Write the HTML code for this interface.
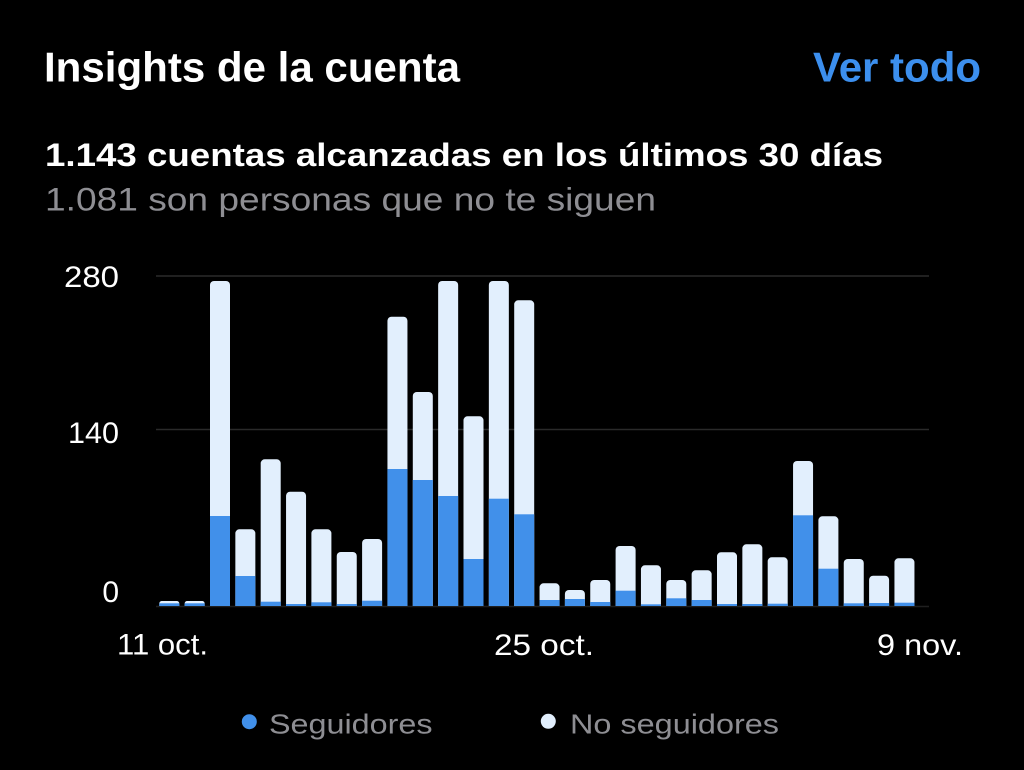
<!DOCTYPE html>
<html>
<head>
<meta charset="utf-8">
<style>
html,body{margin:0;padding:0;background:#000;}
body{width:1024px;height:770px;overflow:hidden;}
svg{display:block;}
text{font-family:"Liberation Sans",Arial,sans-serif;}
</style>
</head>
<body>
<svg width="1024" height="770" viewBox="0 0 1024 770" xmlns="http://www.w3.org/2000/svg">
<rect x="0" y="0" width="1024" height="770" fill="#000"/>
<defs>
<clipPath id="cp"><rect x="0" y="0" width="1024" height="606"/></clipPath>
</defs>

<!-- Header -->
<text x="44" y="81.7" font-size="42" font-weight="bold" fill="#ffffff" textLength="416" lengthAdjust="spacingAndGlyphs">Insights de la cuenta</text>
<text x="813" y="81.7" font-size="42" font-weight="bold" fill="#3c8fee" textLength="168" lengthAdjust="spacingAndGlyphs">Ver todo</text>
<text x="45" y="166" font-size="32" font-weight="bold" fill="#ffffff" textLength="838" lengthAdjust="spacingAndGlyphs">1.143 cuentas alcanzadas en los últimos 30 días</text>
<text x="45" y="210.5" font-size="32" fill="#8e8e93" textLength="611" lengthAdjust="spacingAndGlyphs">1.081 son personas que no te siguen</text>

<!-- Gridlines -->
<line x1="156" y1="276" x2="929" y2="276" stroke="#2a2a2a" stroke-width="1.5"/>
<line x1="156" y1="429.5" x2="929" y2="429.5" stroke="#2a2a2a" stroke-width="1.5"/>
<line x1="156" y1="606.5" x2="929" y2="606.5" stroke="#1f1f1f" stroke-width="1.5"/>

<!-- Y labels -->
<text x="119" y="287" font-size="30" fill="#ffffff" text-anchor="end" textLength="55" lengthAdjust="spacingAndGlyphs">280</text>
<text x="119" y="443" font-size="30" fill="#ffffff" text-anchor="end" textLength="51" lengthAdjust="spacingAndGlyphs">140</text>
<text x="119" y="602" font-size="30" fill="#ffffff" text-anchor="end">0</text>

<!-- Bars -->
<g clip-path="url(#cp)">
<g fill="#e2effd">
<rect x="159.3" y="601" width="20" height="11" rx="2.5"/>
<rect x="184.65" y="601" width="20" height="11" rx="2.5"/>
<rect x="210.0" y="281" width="20" height="331" rx="4"/>
<rect x="235.35" y="529.3" width="20" height="83" rx="4"/>
<rect x="260.7" y="459.3" width="20" height="153" rx="4"/>
<rect x="286.05" y="491.7" width="20" height="121" rx="4"/>
<rect x="311.4" y="529.3" width="20" height="83" rx="4"/>
<rect x="336.75" y="552" width="20" height="60" rx="4"/>
<rect x="362.1" y="539" width="20" height="73" rx="4"/>
<rect x="387.45" y="316.7" width="20" height="296" rx="4"/>
<rect x="412.8" y="392" width="20" height="220" rx="4"/>
<rect x="438.15" y="281" width="20" height="331" rx="4"/>
<rect x="463.5" y="416.3" width="20" height="196" rx="4"/>
<rect x="488.85" y="281" width="20" height="331" rx="4"/>
<rect x="514.2" y="300.3" width="20" height="312" rx="4"/>
<rect x="539.55" y="583.3" width="20" height="29" rx="4"/>
<rect x="564.9" y="590" width="20" height="22" rx="4"/>
<rect x="590.25" y="580" width="20" height="32" rx="4"/>
<rect x="615.6" y="546" width="20" height="66" rx="4"/>
<rect x="640.95" y="565.3" width="20" height="47" rx="4"/>
<rect x="666.3" y="580" width="20" height="32" rx="4"/>
<rect x="691.65" y="570.3" width="20" height="42" rx="4"/>
<rect x="717.0" y="552.3" width="20" height="60" rx="4"/>
<rect x="742.35" y="544.3" width="20" height="68" rx="4"/>
<rect x="767.7" y="557.3" width="20" height="55" rx="4"/>
<rect x="793.05" y="461" width="20" height="151" rx="4"/>
<rect x="818.4" y="516.3" width="20" height="96" rx="4"/>
<rect x="843.75" y="559" width="20" height="53" rx="4"/>
<rect x="869.1" y="575.7" width="20" height="37" rx="4"/>
<rect x="894.45" y="558.3" width="20" height="54" rx="4"/>
</g>
<g fill="#4190ea">
<rect x="159.3" y="603.3" width="20" height="2.7"/>
<rect x="184.65" y="603.3" width="20" height="2.7"/>
<rect x="210.0" y="516" width="20" height="90"/>
<rect x="235.35" y="576" width="20" height="30"/>
<rect x="260.7" y="601.7" width="20" height="4.3"/>
<rect x="286.05" y="604" width="20" height="2"/>
<rect x="311.4" y="602.3" width="20" height="3.7"/>
<rect x="336.75" y="604" width="20" height="2"/>
<rect x="362.1" y="600.7" width="20" height="5.3"/>
<rect x="387.45" y="469" width="20" height="137"/>
<rect x="412.8" y="480" width="20" height="126"/>
<rect x="438.15" y="496" width="20" height="110"/>
<rect x="463.5" y="559" width="20" height="47"/>
<rect x="488.85" y="498.7" width="20" height="107.3"/>
<rect x="514.2" y="514.3" width="20" height="91.7"/>
<rect x="539.55" y="600" width="20" height="6"/>
<rect x="564.9" y="599" width="20" height="7"/>
<rect x="590.25" y="602" width="20" height="4"/>
<rect x="615.6" y="590.7" width="20" height="15.3"/>
<rect x="640.95" y="604.3" width="20" height="1.7"/>
<rect x="666.3" y="598.3" width="20" height="7.7"/>
<rect x="691.65" y="600" width="20" height="6"/>
<rect x="717.0" y="604" width="20" height="2"/>
<rect x="742.35" y="604" width="20" height="2"/>
<rect x="767.7" y="603.7" width="20" height="2.3"/>
<rect x="793.05" y="515.3" width="20" height="90.7"/>
<rect x="818.4" y="568.7" width="20" height="37.3"/>
<rect x="843.75" y="603.3" width="20" height="2.7"/>
<rect x="869.1" y="603" width="20" height="3"/>
<rect x="894.45" y="602.7" width="20" height="3.3"/>
</g>
</g>

<!-- X labels -->
<text x="117" y="654.5" font-size="30" fill="#ffffff" textLength="91" lengthAdjust="spacingAndGlyphs">11 oct.</text>
<text x="494" y="655" font-size="30" fill="#ffffff" textLength="100" lengthAdjust="spacingAndGlyphs">25 oct.</text>
<text x="877" y="655" font-size="30" fill="#ffffff" textLength="86" lengthAdjust="spacingAndGlyphs">9 nov.</text>

<!-- Legend -->
<circle cx="249.3" cy="721.7" r="7.5" fill="#4190ea"/>
<text x="269" y="733.3" font-size="28" fill="#8e8e93" textLength="163.5" lengthAdjust="spacingAndGlyphs">Seguidores</text>
<circle cx="548.3" cy="721.3" r="7.5" fill="#e2effd"/>
<text x="570" y="733.3" font-size="28" fill="#8e8e93" textLength="209" lengthAdjust="spacingAndGlyphs">No seguidores</text>
</svg>
</body>
</html>
